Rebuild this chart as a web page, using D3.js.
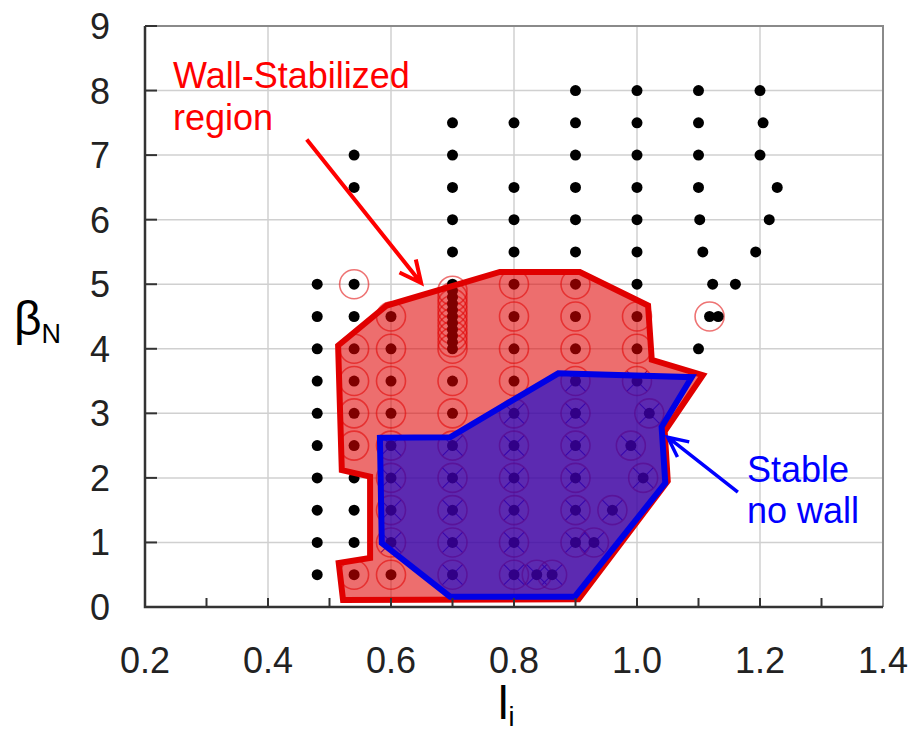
<!DOCTYPE html>
<html>
<head>
<meta charset="utf-8">
<script src="https://cdn.jsdelivr.net/npm/d3@7"></script>
<style>
  body { margin: 0; background: #fff; }
  text { font-family: "Liberation Sans", Arial, sans-serif; }
</style>
</head>
<body>
<div id="chart"></div>
<script>
// data: [li, betaN]
let unstable = [
    [0.48,0.5],[0.48,1],[0.48,1.5],[0.48,2],[0.48,2.5],[0.48,3],[0.48,3.5],[0.48,4],[0.48,4.5],[0.48,5],
    [0.54,1],[0.54,1.5],[0.54,2],[0.54,4.5],[0.54,6.5],[0.54,7],
    [0.7,5],[0.7,5.5],[0.7,6],[0.7,6.5],[0.7,7],[0.7,7.5],
    [0.8,5.5],[0.8,6],[0.8,6.5],[0.8,7.5],
    [0.9,5.5],[0.9,6],[0.9,6.5],[0.9,7],[0.9,7.5],[0.9,8],
    [1.0,5],[1.0,5.5],[1.0,6],[1.0,6.5],[1.0,7],[1.0,7.5],[1.0,8],
    [1.1,4],[1.132,4.5],[1.123,5],[1.16,5],[1.107,5.5],[1.102,6],[1.1,6.5],[1.1,7],[1.1,7.5],[1.1,8],
    [1.193,5.5],[1.215,6],[1.228,6.5],[1.2,7],[1.205,7.5],[1.2,8]
]
let wallStable = [
    [0.54,0.5],[0.54,2.5],[0.54,3],[0.54,3.5],[0.54,4],[0.54,5],
    [0.6,0.5],[0.6,3],[0.6,3.5],[0.6,4],[0.6,4.5],
    [0.7,3],[0.7,3.5],[0.7,4],[0.7,4.1],[0.7,4.2],[0.7,4.3],[0.7,4.4],[0.7,4.5],[0.7,4.6],[0.7,4.7],[0.7,4.8],[0.7,4.9],
    [0.8,3.5],[0.8,4],[0.8,4.5],[0.8,5],
    [0.9,4],[0.9,4.5],[0.9,5],
    [1.0,4],[1.0,4.5],
    [1.118,4.5]
]
let noWallStable = [
    [0.6,1],[0.6,1.5],[0.6,2],[0.6,2.5],
    [0.7,0.5],[0.7,1],[0.7,1.5],[0.7,2],[0.7,2.5],
    [0.8,0.5],[0.8,1],[0.8,1.5],[0.8,2],[0.8,2.5],[0.8,3],
    [0.837,0.5],[0.862,0.5],
    [0.9,1],[0.93,1],[0.9,1.5],[0.96,1.5],[0.9,2],[0.9,2.5],[0.9,3],[0.9,3.5],
    [1.01,2],[0.99,2.5],[1.02,3],[1.0,3.5]
]
// region outlines
let wallRegion = [
    [0.522,0.11],[0.515,0.68],[0.566,0.76],[0.566,2.02],[0.52,2.12],[0.514,4.05],[0.528,4.16],
    [0.593,4.67],[0.777,5.19],[0.907,5.19],[1.018,4.67],[1.024,3.83],[1.107,3.59],[1.045,2.72],
    [1.05,1.95],[0.905,0.12]
]
let noWallRegion = [
    [0.582,2.62],[0.696,2.63],[0.872,3.62],[1.089,3.56],[1.04,2.79],[1.046,1.92],[0.899,0.16],
    [0.696,0.16],[0.585,0.99]
]
let xTicks = [0.2,0.4,0.6,0.8,1.0,1.2,1.4]
let xMinorTicks = [0.3,0.4,0.5,0.6,0.7,0.8,0.9,1.0,1.1,1.2,1.3]
let yTicks = [0,1,2,3,4,5,6,7,8,9]

var margin = {top: 26, right: 30, bottom: 126, left: 145},
    width = 883 - margin.left,
    height = 607 - margin.top;

var svg = d3.select("#chart").append("svg")
    .attr("width", 913)
    .attr("height", 733)
  .append("g")
    .attr("transform", "translate(" + margin.left + "," + margin.top + ")");

var x = d3.scaleLinear().domain([0.2, 1.4]).range([0, width]);
var y = d3.scaleLinear().domain([0, 9]).range([height, 0]);

// grid
svg.append("g").selectAll("line")
    .data(xTicks.slice(1, -1))
    .enter().append("line")
    .attr("x1", d => x(d)).attr("x2", d => x(d))
    .attr("y1", 0).attr("y2", height)
    .attr("stroke", "#d0d0d0").attr("stroke-width", 1.5)
svg.append("g").selectAll("line")
    .data(yTicks.slice(1, -1))
    .enter().append("line")
    .attr("x1", 0).attr("x2", width)
    .attr("y1", d => y(d)).attr("y2", d => y(d))
    .attr("stroke", "#d0d0d0").attr("stroke-width", 1.5)

// frame top/right
svg.append("path")
    .attr("d", `M0,0H${width}V${height}`)
    .attr("fill", "none").attr("stroke", "#8a8a8a").attr("stroke-width", 2)

// markers: black dots, red rings, blue crosses
let allPts = unstable.concat(wallStable, noWallStable)
let ringPts = wallStable.concat(noWallStable)

svg.append("g").selectAll("line")
    .data(noWallStable)
    .enter().append("path")
    .attr("d", d => {
        let cx = x(d[0]), cy = y(d[1]), s = 10
        return `M${cx-s},${cy-s}L${cx+s},${cy+s}M${cx-s},${cy+s}L${cx+s},${cy-s}`
    })
    .attr("stroke", "#2020e0").attr("stroke-width", 1.1).attr("fill", "none")

svg.append("g").selectAll("circle")
    .data(ringPts)
    .enter().append("circle")
    .attr("cx", d => x(d[0])).attr("cy", d => y(d[1]))
    .attr("r", 14.5)
    .attr("fill", "none").attr("stroke", "#e00000").attr("stroke-opacity", 0.55).attr("stroke-width", 1.6)

svg.append("g").selectAll("circle")
    .data(allPts)
    .enter().append("circle")
    .attr("cx", d => x(d[0])).attr("cy", d => y(d[1]))
    .attr("r", 5.5)
    .attr("fill", "#000")

// regions
let line = d3.line().x(d => x(d[0])).y(d => y(d[1])).curve(d3.curveLinearClosed)

svg.append("path")
    .attr("d", line(wallRegion))
    .attr("fill", "#e00000").attr("fill-opacity", 0.57)
    .attr("stroke", "#e00000").attr("stroke-width", 6).attr("stroke-linejoin", "miter")

svg.append("path")
    .attr("d", line(noWallRegion))
    .attr("fill", "#0000dc").attr("fill-opacity", 0.61)
    .attr("stroke", "#0000e6").attr("stroke-width", 6).attr("stroke-linejoin", "miter")

// axes (left + bottom)
svg.append("g").selectAll("line")
    .data(yTicks)
    .enter().append("line")
    .attr("x1", 0).attr("x2", 12)
    .attr("y1", d => y(d)).attr("y2", d => y(d))
    .attr("stroke", "#333").attr("stroke-width", 2)
svg.append("g").selectAll("line")
    .data(xMinorTicks)
    .enter().append("line")
    .attr("x1", d => x(d)).attr("x2", d => x(d))
    .attr("y1", height).attr("y2", height - 9)
    .attr("stroke", "#333").attr("stroke-width", 2)
svg.append("path")
    .attr("d", `M0,0V${height}H${width}`)
    .attr("fill", "none").attr("stroke", "#333").attr("stroke-width", 2.5)

svg.append("g").selectAll("text")
    .data(yTicks)
    .enter().append("text")
    .attr("x", -35).attr("y", d => y(d))
    .attr("dy", "0.36em")
    .attr("text-anchor", "end")
    .style("font-size", "36px").attr("fill", "#222")
    .text(d => d)

svg.append("g").selectAll("text")
    .data(xTicks)
    .enter().append("text")
    .attr("x", d => x(d)).attr("y", height + 66)
    .attr("text-anchor", "middle")
    .style("font-size", "36px").attr("fill", "#222")
    .text(d => d.toFixed(1))

// axis titles
let yTitle = svg.append("text")
    .attr("x", -131).attr("y", 335 - margin.top)
    .attr("fill", "#000")
yTitle.append("tspan").style("font-size", "48px").text("β")
yTitle.append("tspan").style("font-size", "27px").attr("dy", 8).text("N")

let xTitle = svg.append("text")
    .attr("x", x(0.8) - 16).attr("y", 719 - margin.top)
    .attr("fill", "#000")
xTitle.append("tspan").style("font-size", "47px").text("l")
xTitle.append("tspan").style("font-size", "27px").attr("dy", 7).text("i")

// annotations
svg.append("text")
    .attr("x", 173 - margin.left).attr("y", 88 - margin.top)
    .style("font-size", "36px").attr("fill", "#ff0000")
    .text("Wall-Stabilized")
svg.append("text")
    .attr("x", 173 - margin.left).attr("y", 130 - margin.top)
    .style("font-size", "36px").attr("fill", "#ff0000")
    .text("region")
svg.append("text")
    .attr("x", 747 - margin.left).attr("y", 482 - margin.top)
    .style("font-size", "36px").attr("fill", "#0000ff")
    .text("Stable")
svg.append("text")
    .attr("x", 747 - margin.left).attr("y", 523 - margin.top)
    .style("font-size", "36px").attr("fill", "#0000ff")
    .text("no wall")

function arrow(from, to, color, w, head) {
    let x1 = x(from[0]), y1 = y(from[1]), x2 = x(to[0]), y2 = y(to[1])
    let a = Math.atan2(y2 - y1, x2 - x1)
    let p1 = [x2 - head * Math.cos(a - 0.45), y2 - head * Math.sin(a - 0.45)]
    let p2 = [x2 - head * Math.cos(a + 0.45), y2 - head * Math.sin(a + 0.45)]
    svg.append("path")
        .attr("d", `M${x1},${y1}L${x2},${y2}M${p1[0]},${p1[1]}L${x2},${y2}L${p2[0]},${p2[1]}`)
        .attr("fill", "none").attr("stroke", color).attr("stroke-width", w)
}
arrow([0.463, 7.24], [0.649, 5.02], "#ff0000", 4, 24)
arrow([1.164, 1.78], [1.05, 2.63], "#0000ff", 3.5, 22)
</script>
</body>
</html>
